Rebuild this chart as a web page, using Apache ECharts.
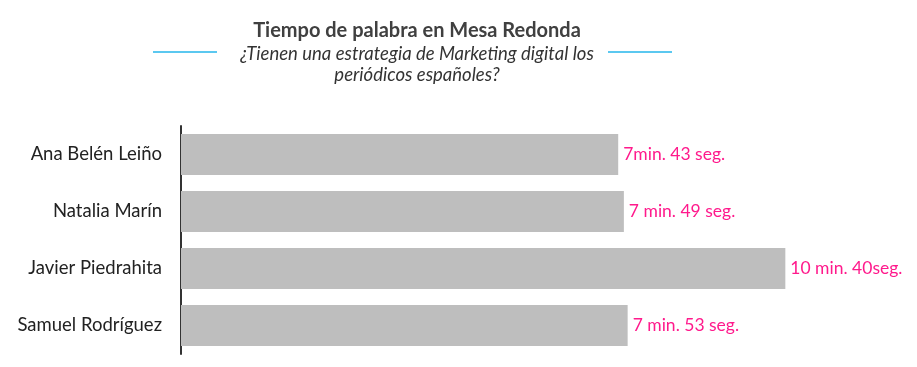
<!DOCTYPE html>
<html><head><meta charset="utf-8">
<script src="https://cdn.jsdelivr.net/npm/echarts@6/dist/echarts.min.js"></script>
<style>html,body{margin:0;padding:0;background:#fff}#c{width:917px;height:367px}</style>
</head><body><div id="c"></div>
<script>
const categories = ["Ana Belén Leiño", "Natalia Marín", "Javier Piedrahita", "Samuel Rodríguez"];
const seconds = [463, 469, 640, 473];
const labels = ["7min. 43 seg.", "7 min. 49 seg.", "10 min. 40seg.", "7 min. 53 seg."];
const titleText = "Tiempo de palabra en Mesa Redonda";
const subtitleText = "¿Tienen una estrategia de Marketing digital los\nperiódicos españoles?";

const chart = echarts.init(document.getElementById('c'), null, {renderer: 'canvas'});
chart.setOption({
  animation: false,
  backgroundColor: '#fff',
  title: {
    text: titleText,
    subtext: subtitleText,
    left: 412, textAlign: 'center', top: 16,
    itemGap: 2,
    textStyle: {fontFamily: 'Lato', fontWeight: 'bold', fontSize: 20, color: '#404040'},
    subtextStyle: {fontFamily: 'Lato', fontStyle: 'italic', fontSize: 18.5, color: '#333', lineHeight: 21.5, align: 'center'}
  },
  graphic: [
    {type: 'line', shape: {x1: 153, y1: 52, x2: 217, y2: 52}, style: {stroke: '#5BC8F0', lineWidth: 2}},
    {type: 'line', shape: {x1: 608, y1: 52, x2: 672, y2: 52}, style: {stroke: '#5BC8F0', lineWidth: 2}}
  ],
  grid: {left: 181, top: 126, bottom: 13, width: 661, containLabel: false},
  xAxis: {type: 'value', min: 0, max: 700, show: false},
  yAxis: {
    type: 'category', data: categories, inverse: true,
    axisLine: {show: true, lineStyle: {color: '#333', width: 2}},
    axisTick: {show: false},
    axisLabel: {color: '#222', fontFamily: 'Lato', fontSize: 18.5, margin: 19}
  },
  series: [{
    type: 'bar', data: seconds, barWidth: 41,
    itemStyle: {color: '#BEBEBE'},
    label: {
      show: true, position: 'right', distance: 5,
      color: '#FF1A8C', fontFamily: 'Lato', fontSize: 17.5,
      formatter: p => labels[p.dataIndex]
    }
  }]
});
</script></body></html>
